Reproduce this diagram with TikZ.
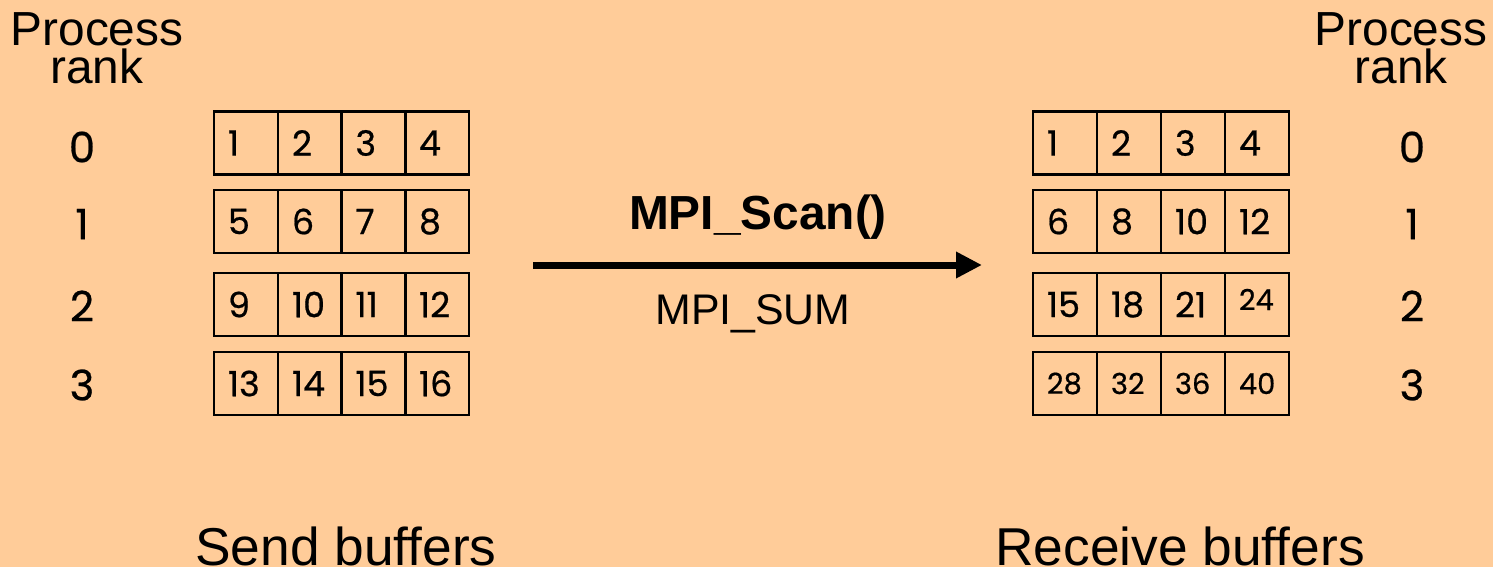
\documentclass[tikz,border=0pt]{standalone}
\usepackage{fontspec}
\setmainfont{Liberation Sans}
\newfontfamily\digitfont[FakeBold=0.6]{Poppins}
\usetikzlibrary{arrows.meta}
\definecolor{peach}{HTML}{FFCC99}
\tikzset{
  cell/.style={draw=black, line width=2.4bp, minimum height=63bp,
    inner xsep=14bp, inner ysep=0bp, text width=36bp, align=left,
    font=\digitfont\fontsize{35}{35}\selectfont},
  smallcell/.style={cell, font=\digitfont\fontsize{29}{29}\selectfont},
  rank/.style={font=\digitfont\fontsize{42}{42}\selectfont, inner sep=0bp},
  head/.style={font=\fontsize{48}{38}\selectfont, align=center, inner sep=0bp},
  caption/.style={font=\fontsize{53.5}{53.5}\selectfont, inner sep=0bp},
  opname/.style={font=\bfseries\fontsize{48}{48}\selectfont, inner sep=0bp},
  opkind/.style={font=\fontsize{43}{43}\selectfont, inner sep=0bp},
  flow/.style={line width=7bp, -{Triangle[length=26bp, width=25bp]}}
}
\begin{document}
\begin{tikzpicture}[x=1bp, y=-1bp]
  \fill[peach] (0,0) rectangle (1493,567);
  \useasboundingbox (0,0) rectangle (1493,567);

  % column headers
  \node[head] (hl) at (97,48) {Process\\rank};
  \node[head] (hr) at (1401,48) {Process\\rank};

  % rank numbers
  \foreach \r/\y in {0/147,1/224,2/306,3/385} {
    \node[rank] (rl\r) at (82,\y) {\r};
    \node[rank] (rr\r) at (1412,\y) {\r};
  }

  % send buffers
  \foreach \y [count=\r from 0] in {143,221.5,304.5,383.5} {
    \foreach \x [count=\c from 0] in {246,310,373.5,437} {
      \pgfmathtruncatemacro{\v}{4*\r+\c+1}
      \node[cell] (s\r\c) at (\x,\y) {\v};
    }
  }

  % receive buffers (prefix sums)
  \node[cell] (r00) at (1065,143) {1};
  \node[cell] (r01) at (1129,143) {2};
  \node[cell] (r02) at (1193,143) {3};
  \node[cell] (r03) at (1257,143) {4};
  \node[cell] (r10) at (1065,221.5) {6};
  \node[cell] (r11) at (1129,221.5) {8};
  \node[cell] (r12) at (1193,221.5) {10};
  \node[cell] (r13) at (1257,221.5) {12};
  \node[cell] (r20) at (1065,304.5) {15};
  \node[cell] (r21) at (1129,304.5) {18};
  \node[cell] (r22) at (1193,304.5) {21};
  \node[smallcell, text depth=10bp] (r23) at (1257,304.5) {24};
  \node[smallcell] (r30) at (1065,383.5) {28};
  \node[smallcell] (r31) at (1129,383.5) {32};
  \node[smallcell] (r32) at (1193,383.5) {36};
  \node[smallcell] (r33) at (1257,383.5) {40};

  % operation
  \node[opname] (op) at (758,217) {MPI\_Scan()};
  \node[opkind] (kind) at (753,314) {MPI\_SUM};
  \coordinate (from) at (533,265);
  \coordinate (to) at (982,265);
  \draw[flow] (from) -- (to);

  % captions
  \node[caption, anchor=base] (cs) at (346,565) {Send buffers};
  \node[caption, anchor=base] (cr) at (1180,565) {Receive buffers};
\end{tikzpicture}
\end{document}
